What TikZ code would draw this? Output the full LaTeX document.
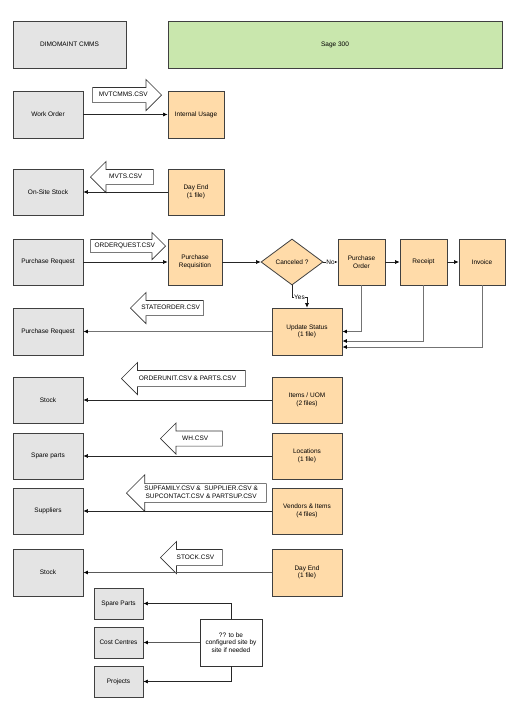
\documentclass[tikz,border=0pt]{standalone}
\usepackage{fontspec}
\setmainfont{Liberation Sans}
\usetikzlibrary{arrows.meta,%
                shapes,positioning}
\definecolor{cmmsgrey}{HTML}{E4E4E4}
\definecolor{sageorange}{HTML}{FFDBA9}
\definecolor{sagegreen}{HTML}{C9E7AD}

\begin{document}
\begin{tikzpicture}[x=1pt,y=-1pt,
  font=\fontsize{6.5}{7.6}\selectfont,
  every node/.style={align=center,inner sep=1pt},
  cmms/.style={draw=black!75,fill=cmmsgrey,line width=0.8pt,minimum width=70pt,minimum height=47pt},
  sage/.style={draw=black!75,fill=sageorange,line width=0.8pt,minimum width=70pt,minimum height=47pt},
  decide/.style={diamond,draw=black!75,fill=sageorange,line width=0.8pt,minimum width=62pt,minimum height=46pt,aspect=1.35,inner sep=0pt},
  csvfile/.style={single arrow,draw=black!80,fill=white,line width=0.6pt,single arrow head extend=8pt,
                  single arrow head indent=0pt,text height=5pt,text depth=1.5pt,inner xsep=2pt,inner ysep=4pt},
  leftfile/.style={csvfile,shape border rotate=180},
  flow/.style={draw=black!85,line width=0.6pt,-{Latex[length=4.5pt,width=4pt,black,fill=black]}},
  back/.style={flow,draw=black!55,line width=0.8pt},
]
\useasboundingbox (0,0) rectangle (525,707);
\node[cmms,minimum width=113pt] (dimo) at (69.5,44.5) {DIMOMAINT CMMS};
\node[sage,fill=sagegreen,minimum width=334pt] (sage) at (335,44.5) {Sage 300};
\node[cmms] (wo) at (48,114.5) {Work Order};
\node[sage,minimum width=56pt] (iu) at (196,114.5) {Internal Usage};
\node[cmms,minimum height=46pt] (oss) at (48,192) {On-Site Stock};
\node[sage,minimum width=56pt,minimum height=46pt] (dayend1) at (196,192) {Day End\\(1 file)};
\node[cmms,minimum height=46pt] (preq1) at (48,262) {Purchase Request};
\node[sage,minimum width=54pt,minimum height=46pt] (requis) at (195,262) {Purchase\\Requisition};
\node[decide] (cancel) at (292,262) {Canceled ?};
\node[sage,minimum width=47pt,minimum height=46pt] (porder) at (361.5,262) {Purchase\\Order};
\node[sage,minimum width=47pt,minimum height=46pt] (receipt) at (423.5,262) {Receipt};
\node[sage,minimum width=46pt,minimum height=46pt] (invoice) at (482,262) {Invoice};
\node[sage] (update) at (307,331.5) {Update Status\\(1 file)};
\node[cmms] (preq2) at (48,331.5) {Purchase Request};
\node[cmms,minimum height=46pt] (stock1) at (48,400) {Stock};
\node[sage,minimum height=46pt] (items) at (307,400) {Items / UOM\\(2 files)};
\node[cmms,minimum height=46pt] (spare) at (48,456) {Spare parts};
\node[sage,minimum height=46pt] (locat) at (307,456) {Locations\\(1 file)};
\node[cmms,minimum height=46pt] (suppl) at (48,511) {Suppliers};
\node[sage,minimum height=46pt] (vendor) at (307,511) {Vendors \& Items\\(4 files)};
\node[cmms] (stock2) at (48,572.5) {Stock};
\node[sage] (dayend2) at (307,572.5) {Day End\\(1 file)};
\node[cmms,minimum width=49pt,minimum height=31pt] (spparts) at (118.5,603.5) {Spare Parts};
\node[cmms,minimum width=49pt,minimum height=31pt] (costc) at (118.5,642.5) {Cost Centres};
\node[cmms,minimum width=49pt,minimum height=31pt] (proj) at (118.5,681.5) {Projects};
\node[draw=black!80,fill=white,line width=0.8pt,minimum width=62pt,minimum height=47pt] (note) at (231,642.5) {?? to be\\configured site by\\site if needed};
\node[csvfile,minimum height=69pt,anchor=tip] (mvtcmms) at (162,95) {MVTCMMS.CSV};
\node[leftfile,minimum height=63pt,anchor=tip] (mvts) at (90,177) {MVTS.CSV};
\node[csvfile,minimum height=75pt,inner ysep=3pt,single arrow head extend=7pt,anchor=tip] (orderq) at (166,246) {ORDERQUEST.CSV};
\node[leftfile,minimum height=73pt,anchor=tip] (stateo) at (130,308) {STATEORDER.CSV};
\node[leftfile,minimum height=124pt,inner ysep=4.5pt,anchor=tip] (ounit) at (121,378.5) {ORDERUNIT.CSV \& PARTS.CSV};
\node[leftfile,minimum height=62pt,anchor=tip] (wh) at (160,438.5) {WH.CSV};
\node[leftfile,minimum height=140pt,text height=12.6pt,inner ysep=2pt,single arrow head extend=9pt,anchor=tip] (supfam) at (126,493) {SUPFAMILY.CSV \&\ \ SUPPLIER.CSV \&\\SUPCONTACT.CSV \& PARTSUP.CSV};
\node[leftfile,minimum height=62pt,inner ysep=4.5pt,anchor=tip] (stockcsv) at (160,557.5) {STOCK.CSV};
\draw[flow] (wo) -- (iu);
\draw[flow] (dayend1) -- (oss);
\draw[flow] (preq1) -- (requis);
\draw[flow] (requis) -- (cancel);
\draw[flow] (cancel) -- node[fill=white,inner sep=0.5pt]{No} (porder);
\draw[flow] (porder) -- (receipt);
\draw[flow] (receipt) -- (invoice);
\draw[flow] (cancel.south) -- ++(0,12) -| node[pos=0.25,fill=white,inner sep=0.3pt]{Yes} (update.north);
\draw[back] (update) -- (preq2);
\draw[back] (porder.south) |- (update.east);
\draw[back] (receipt.south) |- ([yshift=-9.5pt]update.east);
\draw[back] (invoice.south) |- ([yshift=-15.5pt]update.east);
\draw[flow] (items) -- (stock1);
\draw[flow] (locat) -- (spare);
\draw[flow] (vendor) -- (suppl);
\draw[back,draw=black!65] (dayend2) -- (stock2);
\draw[flow] (note.north) |- (spparts.east);
\draw[back,draw=black!65] (note) -- (costc);
\draw[flow] (note.south) |- (proj.east);
\end{tikzpicture}
\end{document}
